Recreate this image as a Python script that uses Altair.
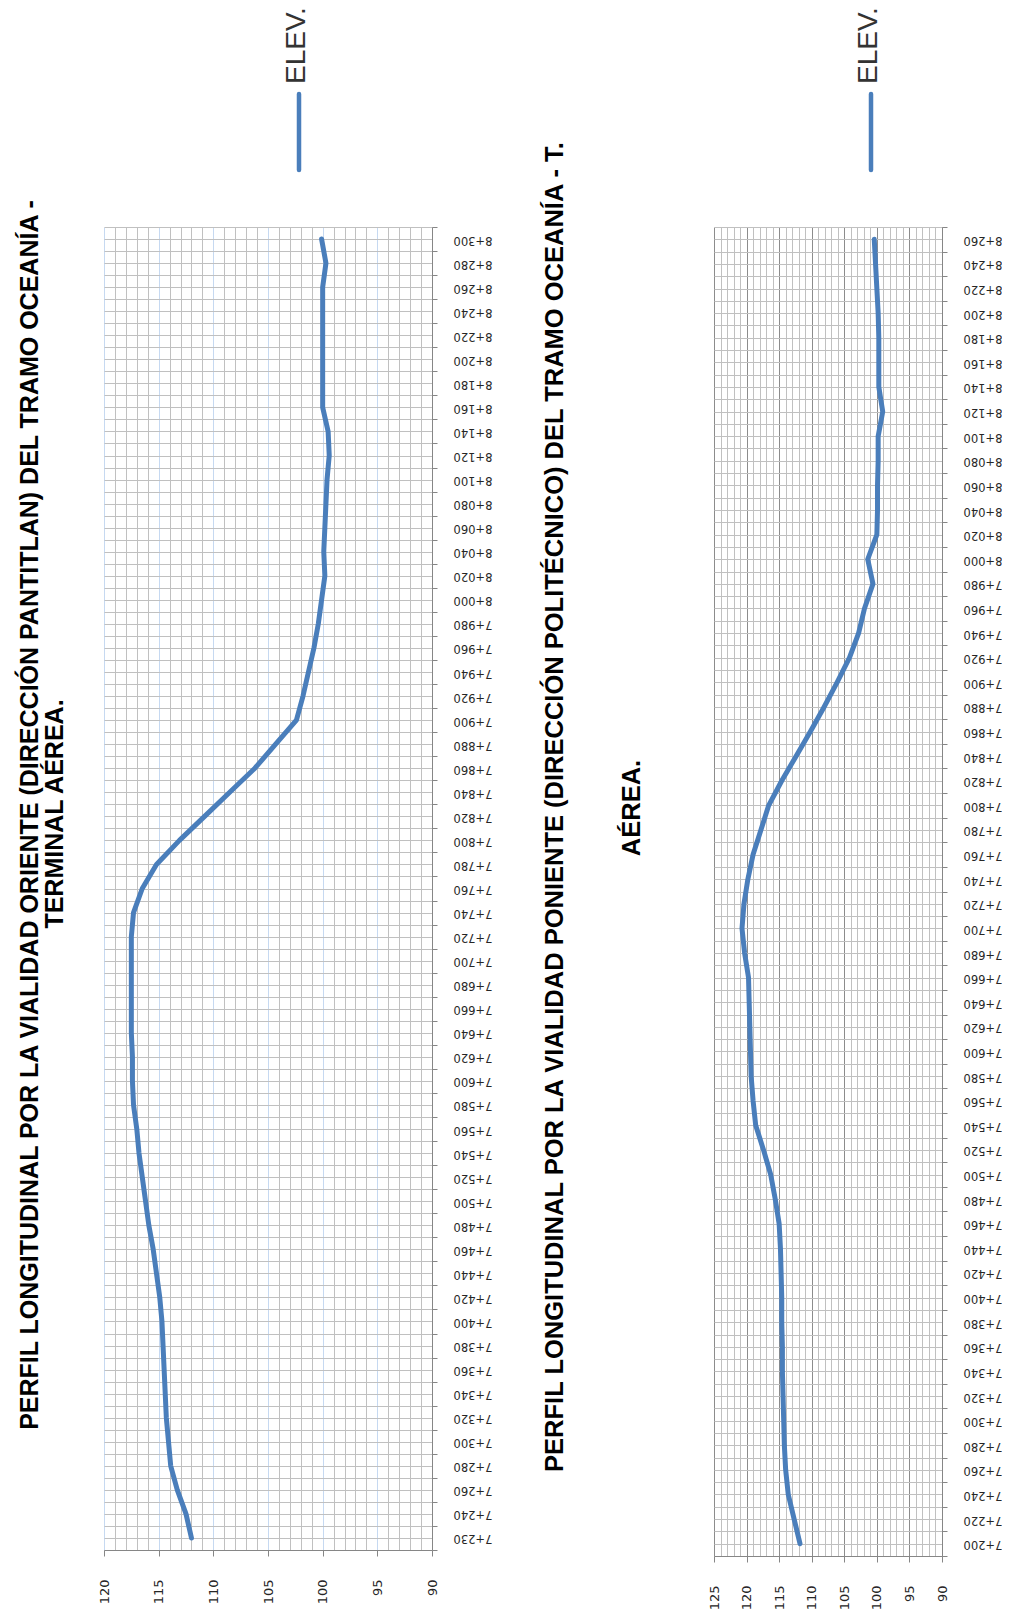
import json
import altair as alt
import pandas as pd

# ---- Vialidad Oriente (dirección Pantitlán) ----
STATIONS_OTE = ["7+230", "7+240", "7+260", "7+280", "7+300", "7+320", "7+340", "7+360",
                "7+380", "7+400", "7+420", "7+440", "7+460", "7+480", "7+500", "7+520",
                "7+540", "7+560", "7+580", "7+600", "7+620", "7+640", "7+660", "7+680",
                "7+700", "7+720", "7+740", "7+760", "7+780", "7+800", "7+820", "7+840",
                "7+860", "7+880", "7+900", "7+920", "7+940", "7+960", "7+980", "8+000",
                "8+020", "8+040", "8+060", "8+080", "8+100", "8+120", "8+140", "8+160",
                "8+180", "8+200", "8+220", "8+240", "8+260", "8+280", "8+300"]
ELEV_OTE = [112.0, 112.5, 113.3, 113.9, 114.1, 114.3, 114.4, 114.5, 114.6, 114.7,
            114.9, 115.2, 115.5, 115.9, 116.2, 116.5, 116.8, 117.0, 117.3, 117.4,
            117.4, 117.5, 117.5, 117.5, 117.5, 117.5, 117.3, 116.5, 115.2, 113.1,
            110.8, 108.5, 106.2, 104.3, 102.4, 101.8, 101.3, 100.8, 100.4, 100.1,
            99.8, 99.9, 99.8, 99.7, 99.6, 99.4, 99.5, 100.0, 100.0, 100.0,
            100.0, 100.0, 100.0, 99.7, 100.1]

# ---- Vialidad Poniente (dirección Politécnico) ----
STATIONS_PTE = ["7+200", "7+220", "7+240", "7+260", "7+280", "7+300", "7+320", "7+340",
                "7+360", "7+380", "7+400", "7+420", "7+440", "7+460", "7+480", "7+500",
                "7+520", "7+540", "7+560", "7+580", "7+600", "7+620", "7+640", "7+660",
                "7+680", "7+700", "7+720", "7+740", "7+760", "7+780", "7+800", "7+820",
                "7+840", "7+860", "7+880", "7+900", "7+920", "7+940", "7+960", "7+980",
                "8+000", "8+020", "8+040", "8+060", "8+080", "8+100", "8+120", "8+140",
                "8+160", "8+180", "8+200", "8+220", "8+240", "8+260"]
ELEV_PTE = [111.8, 112.7, 113.6, 114.0, 114.2, 114.3, 114.4, 114.5, 114.5, 114.6,
            114.6, 114.7, 114.8, 115.0, 115.6, 116.3, 117.4, 118.6, 119.0, 119.3,
            119.4, 119.5, 119.6, 119.7, 120.3, 120.7, 120.4, 119.8, 119.0, 117.8,
            116.6, 114.6, 112.4, 110.2, 108.1, 106.1, 104.2, 102.8, 101.9, 100.6,
            101.4, 100.0, 99.9, 99.9, 99.8, 99.8, 99.1, 99.7, 99.7, 99.7,
            99.8, 100.0, 100.2, 100.4]

TITLE_OTE = ["PERFIL LONGITUDINAL POR LA VIALIDAD ORIENTE (DIRECCIÓN PANTITLAN) DEL TRAMO OCEANÍA -",
             "TERMINAL AÉREA."]
TITLE_PTE = ["PERFIL LONGITUDINAL POR LA VIALIDAD PONIENTE (DIRECCIÓN POLITÉCNICO) DEL TRAMO OCEANÍA - T.",
             "AÉREA."]
SERIES_NAME = "ELEV."

BLUE = "#4A7EBB"
GRID = "#c0c0c0"
AXIS = "#868686"
TEXT = "#262626"
TITLE_FONT = "Liberation Sans"
TICK_FONT = "DejaVu Sans"


def one():
    return alt.Data(values=[{}])


def profile(stations, elevs, lo, hi, major_color, width, height,
            title_lines, title_pos, title_size, legend_x):
    n = len(stations)
    df = pd.DataFrame({"idx": list(range(n)), "estacion": stations, "elev": elevs})
    half_steps = [k / 2 - 0.5 for k in range(2 * n + 1)]
    names = json.dumps(stations)

    x_axis = alt.Axis(
        orient="bottom", values=list(range(lo, hi + 1)), grid=True,
        gridColor=alt.condition("datum.value % 5 == 0", alt.value(major_color), alt.value(GRID)),
        gridWidth=1, tickSize=6, tickColor=AXIS,
        tickOpacity=alt.condition("datum.value % 5 == 0", alt.value(1), alt.value(0)),
        labelExpr="datum.value % 5 == 0 ? datum.label : ''",
        labelAngle=270, labelAlign="right", labelBaseline="middle", labelPadding=23,
        labelFlush=False, labelOverlap=False, labelFont=TICK_FONT, labelFontSize=13,
        labelColor=TEXT, domainColor=AXIS, title=None,
    )
    y_axis = alt.Axis(
        orient="right", values=half_steps, grid=True, gridColor=GRID, gridWidth=1,
        tickSize=5, tickColor=AXIS,
        tickOpacity=alt.condition("datum.value % 1 != 0", alt.value(1), alt.value(0)),
        labelExpr=f"datum.value % 1 == 0 ? {names}[datum.value] : ''",
        labelAngle=180, labelAlign="right", labelBaseline="middle", labelPadding=16,
        labelOverlap=False, labelFont=TICK_FONT, labelFontSize=11.5, labelColor=TEXT,
        domainColor=AXIS, title=None,
    )

    line = alt.Chart(df).mark_line(
        color=BLUE, strokeWidth=5, strokeCap="round", strokeJoin="round"
    ).encode(
        x=alt.X("elev:Q", scale=alt.Scale(domain=[lo, hi], reverse=True, nice=False, zero=False), axis=x_axis),
        y=alt.Y("idx:Q", scale=alt.Scale(domain=[-0.5, n - 0.5], nice=False, zero=False), axis=y_axis),
        order=alt.Order("idx:Q"),
    )

    layers = [line]
    for text, (tx, ty) in zip(title_lines, title_pos):
        layers.append(
            alt.Chart(one()).mark_text(
                angle=270, align="center", baseline="middle", font=TITLE_FONT,
                fontSize=title_size, fontWeight="bold", color="#000000",
            ).encode(x=alt.value(tx), y=alt.value(ty), text=alt.value(text))
        )

    # series key: vertical stroke with its rotated name above it
    layers.append(
        alt.Chart(one()).mark_rule(color=BLUE, strokeWidth=4.5, strokeCap="round").encode(
            x=alt.value(legend_x), y=alt.value(-133), y2=alt.value(-57)
        )
    )
    layers.append(
        alt.Chart(one()).mark_text(
            angle=270, align="left", baseline="middle", font="Liberation Sans",
            fontSize=28, color="#333333",
        ).encode(x=alt.value(legend_x - 2), y=alt.value(-143), text=alt.value(SERIES_NAME))
    )
    return alt.layer(*layers).properties(width=width, height=height)


oriente = profile(STATIONS_OTE, ELEV_OTE, 90, 120, "#c6d9f1", 328, 1323,
                  TITLE_OTE, [(-74, 588), (-49.5, 587)], 25, 195)
poniente = profile(STATIONS_PTE, ELEV_PTE, 90, 125, "#8c8c8c", 228, 1329,
                   TITLE_PTE, [(-159, 580), (-82, 581)], 25.5, 157)

chart = alt.hconcat(oriente, poniente, spacing=50).properties(
    padding={"left": 17, "top": 7, "right": 0, "bottom": 0},
    background="white",
).configure_view(stroke=None)

chart.save("out.html", embed_options={"renderer": "svg", "actions": False})
